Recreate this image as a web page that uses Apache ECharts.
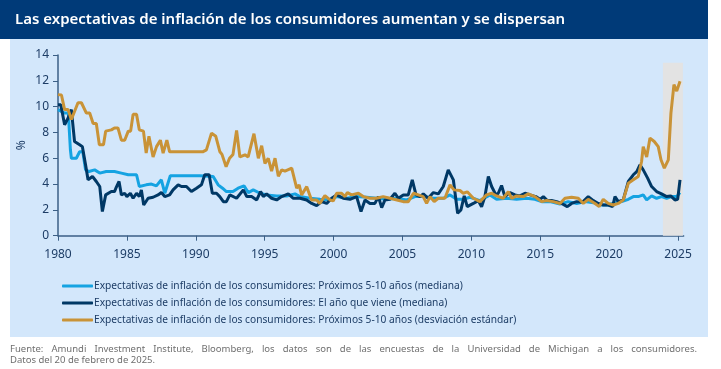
<!DOCTYPE html>
<html><head><meta charset="utf-8">
<script src="https://cdn.jsdelivr.net/npm/echarts@6/dist/echarts.min.js"></script>
<style>html,body{margin:0;padding:0;background:#fff}#c{width:721px;height:369px}</style>
</head><body><div id="c"></div>
<script>
const titleText = 'Las expectativas de inflación de los consumidores aumentan y se dispersan';
const seriesNames = [
  'Expectativas de inflación de los consumidores: Próximos 5-10 años (mediana)',
  'Expectativas de inflación de los consumidores: El año que viene (mediana)',
  'Expectativas de inflación de los consumidores: Próximos 5-10 años (desviación estándar)'
];
const yearTicks = [1980,1985,1990,1995,2000,2005,2010,2015,2020,2025];
const footerLine1 = 'Fuente: Amundi Investment Institute, Bloomberg, los datos son de las encuestas de la Universidad de Michigan a los consumidores.';
const footerLine2 = 'Datos del 20 de febrero de 2025.';
const shadedPeriod = [2023.9, 2025.35];
const shadedTop = 13.4;

// Próximos 5-10 años (mediana)
const longMedian = [
 [1980.0,9.77],[1980.48,9.5],[1980.75,9.5],[1980.9,6.66],[1980.97,6.0],[1981.33,6.0],[1981.57,6.5],[1981.8,6.5],
 [1982.0,5.1],[1982.25,4.97],[1982.66,5.1],[1983.03,4.85],[1983.5,4.97],[1984.1,4.97],[1984.6,4.85],[1985.1,4.72],
 [1985.7,4.72],[1985.9,3.81],[1986.4,3.94],[1986.78,4.0],[1987.14,3.86],[1987.5,4.33],[1987.75,3.29],[1988.15,4.64],
 [1988.84,4.64],[1990.3,4.64],[1991.26,4.59],[1991.62,3.94],[1991.94,3.68],[1992.22,3.42],[1992.7,3.42],[1993.07,3.68],
 [1993.5,3.86],[1993.81,3.34],[1994.17,3.55],[1994.66,3.29],[1995.14,3.16],[1995.87,3.08],[1996.6,3.08],[1997.2,3.24],
 [1997.56,3.03],[1998.29,2.9],[1999.01,2.82],[1999.74,2.77],[2000.22,3.03],[2000.95,2.9],[2001.67,3.03],[2002.4,2.98],
 [2003.12,2.9],[2003.85,2.82],[2004.57,2.9],[2005.3,2.77],[2005.9,3.03],[2006.51,3.03],[2007.24,2.9],[2007.96,2.9],
 [2008.45,3.16],[2008.93,2.82],[2009.41,2.82],[2009.9,2.98],[2010.62,2.72],[2011.35,3.16],[2011.83,2.82],[2012.56,2.9],
 [2013.28,2.82],[2014.0,2.9],[2014.61,2.82],[2015.1,2.64],[2015.7,2.64],[2016.43,2.46],[2017.03,2.64],[2017.64,2.5],
 [2018.24,2.64],[2018.85,2.56],[2019.45,2.38],[2019.93,2.38],[2020.42,2.56],[2020.9,2.64],[2021.39,2.82],[2021.75,3.03],
 [2022.11,3.03],[2022.47,3.16],[2022.72,2.77],[2023.08,3.08],[2023.44,2.9],[2023.8,3.03],[2024.17,2.9],[2024.53,3.03],
 [2024.9,3.03],[2025.14,3.34]
];
// El año que viene (mediana)
const nextYearMedian = [
 [1980.0,10.15],[1980.2,10.15],[1980.48,8.6],[1980.73,9.1],[1980.97,9.77],[1981.2,7.3],[1981.57,7.05],[1981.77,6.9],
 [1982.0,5.5],[1982.18,4.33],[1982.5,4.59],[1982.78,4.2],[1983.03,3.81],[1983.22,1.87],[1983.46,3.16],[1983.87,3.42],
 [1984.1,3.42],[1984.2,3.68],[1984.43,4.2],[1984.6,3.16],[1984.84,3.29],[1985.0,3.03],[1985.25,3.29],[1985.45,2.9],
 [1985.7,3.29],[1985.9,3.03],[1986.05,3.55],[1986.22,2.38],[1986.54,2.9],[1986.9,2.98],[1987.26,3.16],[1987.5,3.34],
 [1987.75,3.03],[1988.1,3.16],[1988.35,3.55],[1988.72,3.94],[1988.96,3.81],[1989.32,3.81],[1989.68,3.42],[1990.05,3.68],
 [1990.41,3.94],[1990.65,4.72],[1990.97,4.72],[1991.2,3.29],[1991.5,3.29],[1991.74,3.03],[1992.0,2.64],[1992.22,2.64],
 [1992.47,3.16],[1992.96,2.9],[1993.45,3.55],[1993.7,3.03],[1994.05,3.03],[1994.42,2.77],[1994.7,3.42],[1994.9,3.03],
 [1995.14,3.24],[1995.5,2.9],[1995.87,2.77],[1996.23,3.03],[1996.71,3.24],[1997.08,2.9],[1997.56,2.9],[1998.04,2.77],
 [1998.41,2.5],[1998.77,2.33],[1999.13,2.64],[1999.5,2.5],[1999.86,2.9],[2000.22,3.16],[2000.7,2.9],[2001.19,2.82],
 [2001.67,3.03],[2001.99,1.87],[2002.28,2.77],[2002.64,2.5],[2003.0,2.5],[2003.25,3.03],[2003.49,2.18],[2003.73,2.77],
 [2004.09,2.82],[2004.45,3.29],[2004.7,2.9],[2005.06,3.16],[2005.42,3.16],[2005.71,4.33],[2005.98,3.16],[2006.27,3.03],
 [2006.51,3.24],[2006.87,2.9],[2007.24,3.34],[2007.6,3.24],[2007.96,3.81],[2008.32,5.1],[2008.69,4.33],[2009.0,1.74],
 [2009.24,2.0],[2009.48,3.08],[2009.7,2.25],[2010.14,2.5],[2010.5,2.72],[2010.74,2.25],[2010.98,3.03],[2011.23,4.59],
 [2011.47,3.81],[2011.78,3.16],[2011.95,3.29],[2012.19,3.89],[2012.43,3.03],[2012.8,3.34],[2013.16,3.16],[2013.52,3.08],
 [2013.89,3.29],[2014.25,3.16],[2014.68,3.03],[2014.98,2.82],[2015.22,3.03],[2015.51,2.72],[2015.82,2.72],[2016.19,2.64],
 [2016.55,2.5],[2016.96,2.25],[2017.27,2.5],[2017.64,2.64],[2018.07,2.6],[2018.48,3.03],[2018.85,2.72],[2019.21,2.5],
 [2019.57,2.38],[2019.93,2.38],[2020.25,2.25],[2020.42,3.03],[2020.66,2.64],[2021.02,2.77],[2021.39,4.2],[2021.75,4.72],
 [2022.0,4.97],[2022.23,5.49],[2022.47,5.1],[2022.79,4.46],[2023.08,3.81],[2023.44,3.42],[2023.8,3.24],[2024.17,3.03],
 [2024.46,3.08],[2024.77,2.77],[2024.97,2.82],[2025.14,4.33]
];
// Próximos 5-10 años (desviación estándar)
const longStdDev = [
 [1980.0,10.93],[1980.25,10.9],[1980.48,9.77],[1980.73,9.77],[1980.97,9.0],[1981.1,8.85],[1981.45,10.3],[1981.7,10.3],
 [1982.06,9.5],[1982.3,9.5],[1982.55,8.7],[1982.78,8.7],[1983.0,7.05],[1983.3,7.05],[1983.46,8.1],[1983.87,8.2],
 [1984.1,8.35],[1984.35,8.35],[1984.6,7.4],[1984.84,7.4],[1985.1,8.1],[1985.27,8.1],[1985.45,9.4],[1985.7,9.4],
 [1985.9,8.2],[1986.2,8.1],[1986.4,6.4],[1986.6,7.7],[1986.9,6.1],[1987.15,6.9],[1987.43,7.4],[1987.63,6.4],
 [1987.9,7.4],[1988.1,6.5],[1990.5,6.5],[1990.77,6.65],[1991.14,7.95],[1991.45,7.7],[1991.75,6.5],[1991.9,6.3],
 [1992.2,5.35],[1992.45,6.0],[1992.7,6.3],[1992.96,8.16],[1993.2,6.1],[1993.57,6.27],[1993.8,6.1],[1994.22,7.9],
 [1994.54,6.0],[1994.78,6.97],[1995.02,5.6],[1995.26,6.0],[1995.5,5.0],[1995.75,6.0],[1995.99,4.6],[1996.23,5.1],
 [1996.47,5.0],[1996.96,5.23],[1997.32,3.68],[1997.5,3.94],[1997.68,3.16],[1998.05,3.8],[1998.4,2.77],[1998.77,2.77],
 [1999.0,2.5],[1999.37,3.1],[1999.74,2.77],[1999.98,2.7],[2000.22,3.29],[2000.58,3.29],[2000.83,3.03],[2001.0,3.34],
 [2001.3,3.16],[2001.8,3.29],[2002.15,3.03],[2002.64,2.9],[2003.1,2.9],[2003.6,3.03],[2004.1,2.9],[2004.6,2.77],
 [2005.06,2.64],[2005.42,2.64],[2005.8,3.29],[2006.15,3.16],[2006.5,3.03],[2006.75,2.5],[2007.0,3.03],[2007.3,2.64],
 [2007.6,2.9],[2008.08,2.9],[2008.45,3.94],[2008.74,3.55],[2009.17,3.5],[2009.41,3.29],[2009.7,3.4],[2010.14,2.9],
 [2010.62,2.64],[2011.1,3.16],[2011.47,3.29],[2011.83,3.08],[2012.3,2.9],[2012.68,3.42],[2012.92,2.9],[2013.28,3.08],
 [2013.77,3.03],[2014.13,3.24],[2014.61,3.03],[2015.1,2.64],[2015.46,2.72],[2015.94,2.64],[2016.43,2.5],[2016.79,2.9],
 [2017.27,2.98],[2017.76,2.9],[2018.12,2.5],[2018.48,2.82],[2018.97,2.5],[2019.28,2.25],[2019.57,2.82],[2019.93,2.5],
 [2020.3,2.38],[2020.66,2.5],[2021.02,2.77],[2021.39,4.07],[2021.75,4.33],[2022.11,4.59],[2022.35,5.75],[2022.47,6.9],
 [2022.72,6.1],[2022.96,7.56],[2023.27,7.3],[2023.56,6.9],[2023.76,5.88],[2024.0,5.23],[2024.29,5.88],[2024.48,9.5],
 [2024.7,11.7],[2024.9,11.2],[2025.14,11.97]
];

const colors = ['#15a3e2', '#003865', '#c99337'];
const labelColor = '#1d3d66';
const axisColor = '#3b5f86';

const chart = echarts.init(document.getElementById('c'), null, {renderer: 'canvas'});

// justified footer line (layout only)
const footFont = '9.5px "Noto Sans"';
const ctx = document.createElement('canvas').getContext('2d');
ctx.font = footFont;
const words = footerLine1.split(' ');
const fx0 = 10, fx1 = 697;
const widths = words.map(w => ctx.measureText(w).width);
const totalW = widths.reduce((a, b) => a + b, 0);
const gap = (fx1 - fx0 - totalW) / (words.length - 1);
const footGraphics = [];
let cx = fx0;
words.forEach((w, i) => {
  footGraphics.push({type: 'text', left: cx, top: 344, z: 10,
    style: {text: w, font: footFont, fill: '#6f6f6f'}});
  cx += widths[i] + gap;
});
footGraphics.push({type: 'text', left: fx0, top: 355, z: 10,
  style: {text: footerLine2, font: footFont, fill: '#6f6f6f'}});

const option = {
  backgroundColor: '#ffffff',
  animation: false,
  title: {
    text: titleText, left: 10, top: 7,
    textStyle: {color: '#ffffff', fontFamily: 'Noto Sans', fontWeight: 600, fontSize: 15}
  },
  graphic: [
    {type: 'rect', shape: {x: 0, y: 0, width: 708, height: 39}, style: {fill: '#003a78'}, z: -10},
    {type: 'rect', shape: {x: 10, y: 39, width: 698, height: 298}, style: {fill: '#d3e7fb'}, z: -10},
    ...footGraphics
  ],
  legend: {
    orient: 'vertical', left: 57, top: 274, itemGap: 3,
    itemWidth: 31, itemHeight: 3, icon: 'roundRect',
    data: seriesNames,
    textStyle: {color: labelColor, fontFamily: 'Noto Sans', fontSize: 10.2, lineHeight: 14, padding: [0, 0, 0, -4]}
  },
  grid: {left: 58, right: 37.4, top: 55, bottom: 133.3, containLabel: false},
  xAxis: {
    type: 'value', min: 1980, max: 2025.4, interval: 5,
    axisLine: {show: true, lineStyle: {color: axisColor, width: 1.5}},
    axisTick: {show: true, length: 5, lineStyle: {color: axisColor}, customValues: yearTicks},
    axisLabel: {color: labelColor, fontFamily: 'Noto Sans', fontSize: 12, margin: 13, customValues: yearTicks,
      formatter: v => String(v)},
    splitLine: {show: false}
  },
  yAxis: {
    type: 'value', min: 0, max: 14, interval: 2,
    name: '%', nameLocation: 'middle', nameGap: 30, nameRotate: 90, nameMoveOverlap: false,
    nameTextStyle: {color: labelColor, fontFamily: 'Noto Sans', fontSize: 12},
    axisLine: {show: true, lineStyle: {color: axisColor, width: 1.5}},
    axisTick: {show: true, length: 5, lineStyle: {color: axisColor}},
    axisLabel: {color: labelColor, fontFamily: 'Noto Sans', fontSize: 12, margin: 9},
    splitLine: {show: false}
  },
  series: [
    {type: 'line', name: 'shade', data: [], z: 1, silent: true,
      markArea: {silent: true, itemStyle: {color: '#e3e3e3'},
        data: [[{coord: [shadedPeriod[0], 0]}, {coord: [shadedPeriod[1], shadedTop]}]]}},
    {type: 'line', name: seriesNames[0], data: longMedian, showSymbol: false, z: 3,
      lineStyle: {color: colors[0], width: 3}, itemStyle: {color: colors[0]}},
    {type: 'line', name: seriesNames[1], data: nextYearMedian, showSymbol: false, z: 4,
      lineStyle: {color: colors[1], width: 3}, itemStyle: {color: colors[1]}},
    {type: 'line', name: seriesNames[2], data: longStdDev, showSymbol: false, z: 5,
      lineStyle: {color: colors[2], width: 3}, itemStyle: {color: colors[2]}}
  ]
};
chart.setOption(option);
</script>
</body></html>
